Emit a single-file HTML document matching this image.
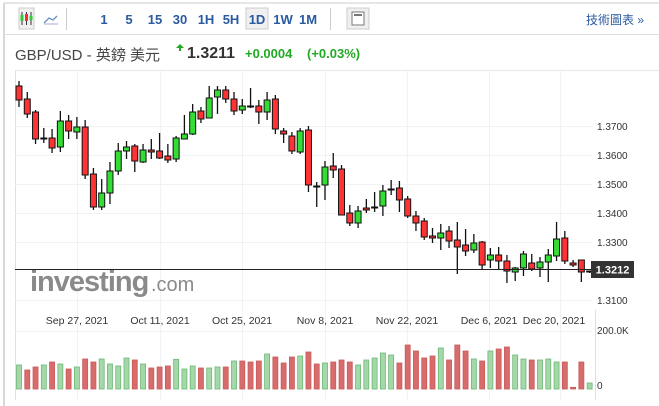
<!DOCTYPE html>
<html><head><meta charset="utf-8">
<style>
body{margin:0;background:#fff;width:659px;height:406px;overflow:hidden;font-family:"Liberation Sans","Noto Sans CJK TC",sans-serif;}
</style></head><body>
<svg id="s" width="659" height="406" xmlns="http://www.w3.org/2000/svg" style="position:absolute;left:0;top:0">
<rect x="0" y="0" width="659" height="406" fill="#fff"/>
<line x1="4" y1="3" x2="4" y2="406" stroke="#ccc" stroke-width="1.5"/>
<line x1="4" y1="3" x2="659" y2="3" stroke="#ccc"/>
<line x1="4" y1="34.5" x2="659" y2="34.5" stroke="#ddd"/>
<rect x="19" y="8" width="15" height="21" fill="#f0f0f0" stroke="#ccc"/>
<g stroke="#333" stroke-width="1"><line x1="22" y1="12" x2="22" y2="25"/><line x1="26.5" y1="12" x2="26.5" y2="25"/><line x1="31" y1="12" x2="31" y2="25"/></g>
<rect x="20.5" y="15" width="3" height="6" fill="#3c3"/><rect x="25" y="14" width="3" height="7" fill="#e33"/><rect x="29.5" y="16" width="3" height="4" fill="#3c3"/>
<polyline points="44,23 49,18 53,20 57,16" fill="none" stroke="#6a8fc0" stroke-width="1.3"/>
<line x1="44" y1="24" x2="58" y2="24" stroke="#aac"/>
<line x1="66.5" y1="8" x2="66.5" y2="30" stroke="#ccc"/>
<g font-size="13" font-weight="bold" fill="#2a5aa0" text-anchor="middle">
<text x="104" y="24">1</text><text x="129" y="24">5</text><text x="155" y="24">15</text><text x="180" y="24">30</text><text x="206" y="24">1H</text><text x="231" y="24">5H</text>
<rect x="246" y="8" width="22" height="21" fill="#f0f0f0" stroke="#ccc"/>
<text x="257" y="24">1D</text><text x="283" y="24">1W</text><text x="308" y="24">1M</text></g>
<line x1="330.5" y1="8" x2="330.5" y2="30" stroke="#ccc"/>
<rect x="347" y="8" width="22" height="21" fill="#f0f0f0" stroke="#ccc"/>
<rect x="352" y="12" width="12" height="13" fill="#fff" stroke="#777"/>
<line x1="354" y1="15" x2="362" y2="15" stroke="#777" stroke-width="2"/>
<text x="644" y="24" font-size="12" fill="#2a5aa0" text-anchor="end">技術圖表 »</text>
<text x="15" y="60" font-size="15" fill="#444">GBP/USD - 英鎊 美元</text>
<polygon points="176,48 180,44 184,48 181,48 181,51 179,51 179,48" fill="#2a2"/>
<text x="187" y="58" font-size="16" font-weight="bold" fill="#333">1.3211</text>
<text x="245" y="58" font-size="13" font-weight="bold" fill="#2a2">+0.0004</text>
<text x="307" y="58" font-size="13" font-weight="bold" fill="#2a2">(+0.03%)</text>
<line x1="15.5" y1="70" x2="15.5" y2="400" stroke="#dde"/>
<line x1="15" y1="70.5" x2="659" y2="70.5" stroke="#e6e8ee"/>
<g id="grid" stroke="#f1f2f4"></g>
<g font-size="10" fill="#333">
<text x="597" y="130">1.3700</text><text x="597" y="159">1.3600</text><text x="597" y="188">1.3500</text><text x="597" y="217">1.3400</text><text x="597" y="246">1.3300</text><text x="597" y="304">1.3100</text>
<text x="597" y="334">200.0K</text><text x="597" y="389">0</text></g>
<g font-size="10.5" fill="#333" text-anchor="middle">
<text x="77" y="324">Sep 27, 2021</text><text x="160" y="324">Oct 11, 2021</text><text x="242" y="324">Oct 25, 2021</text><text x="325" y="324">Nov 8, 2021</text><text x="407" y="324">Nov 22, 2021</text><text x="489" y="324">Dec 6, 2021</text><text x="554" y="324">Dec 20, 2021</text></g>
<line x1="595.5" y1="310" x2="595.5" y2="400" stroke="#dde"/>
<text x="30" y="291" font-size="29" font-weight="bold" fill="#8a8a8a" letter-spacing="-1">investing</text>
<text x="151" y="291" font-size="20" fill="#8a8a8a">.com</text>
<g id="c"></g>
<line x1="15" y1="269.5" x2="592" y2="269.5" stroke="#222"/>
<rect x="591" y="261" width="43" height="17" fill="#333"/>
<text x="612.5" y="273.5" font-size="11" fill="#fff" text-anchor="middle" font-weight="bold">1.3212</text>
</svg>
<script>
(function(){
var S="http://www.w3.org/2000/svg";
function el(p,t,a){var e=document.createElementNS(S,t);for(var k in a)e.setAttribute(k,a[k]);p.appendChild(e);return e;}
var g=document.getElementById('grid');
[126,155,184,213,242,300,331].forEach(function(y){el(g,'line',{x1:15,x2:592,y1:y+.5,y2:y+.5});});
[77,160,242,325,407,489,560].forEach(function(x){el(g,'line',{x1:x+.5,x2:x+.5,y1:71,y2:400});});
var C=[
['r',86,100,81,107],['r',99,114,92,118],['r',112,139,110,144],['r',138,139,128,143],['r',138,148,129,153],['g',121,147,111,152],['r',121,131,115,139],['g',127,132,117,139],['r',127,175,120,179],['r',174,207,168,210],
['g',193,207,179,210],['g',171,193,162,204],['g',151,171,143,175],['g',147,151,141,159],['r',146,161,144,172],['g',150,162,144,163],['r',150,152,139,159],['r',151,158,133,159],['r',156,160,144,163],['g',138,159,136,162],
['g',134,139,115,139],['g',112,134,104,135],['r',111,119,107,123],['g',98,118,86,118],['g',90,97,86,114],['r',90,99,86,103],['r',99,111,92,115],['g',106,110,99,114],['r',106,107,88,108],['r',106,112,100,124],
['g',100,112,92,120],['r',99,129,95,134],['r',131,134,128,143],['r',136,151,132,154],['g',131,152,128,154],['r',130,185,126,192],['r',186,187,182,207],['g',167,185,161,200],['r',166,170,153,178],['r',169,215,165,215],
['r',213,223,205,226],['g',211,223,206,228],['r',208,210,199,213],['r',207,208,192,212],['g',191,206,185,216],['r',189,190,180,195],['r',188,200,181,212],['r',199,216,196,218],['r',216,223,211,231],['r',221,237,218,240],
['r',236,238,228,243],['g',233,238,224,250],['r',231,241,226,248],['r',240,247,222,274],['r',245,251,229,256],['g',243,250,234,253],['r',242,265,241,270],['g',255,260,248,268],['r',255,261,247,270],['r',261,271,255,283],
['g',268,272,267,281],['g',254,268,251,276],['r',263,269,254,271],['g',262,268,257,277],['g',255,262,249,282],['g',239,256,222,261],['r',238,261,231,264],['r',263,265,260,267],['r',260,272,260,282],['r',271,272,271,273]];
var V=['g195','r210','r201','g195','r186','g192','r207','g201','r177','r186','g177','g192','g198','g174','r180','g192','r204','r201','r198','g178','g207','g198','r204','g204','g201','r201','g183','r183','r186','r183','g162','r171','r189','r171','g168','r156','r192','g189','r186','r180','r186','g195','g180','g174','g159','g165','r189','r135','r153','r174','r168','g144','r180','r135','r153','g177','r183','g153','r147','r141','g165','g177','r180','g180','g177','g186','r186','r262','r186','g249'];
var c=document.getElementById('c');
for(var i=0;i<70;i++){var x=19+i*8.27;
 var v=V[i],col=v[0],vt=300+(+v.slice(1))/3;
 el(c,'rect',{x:x-2.5,y:vt,width:5,height:389-vt,fill:col=='r'?'#d86b6b':'#a5d8a9',stroke:col=='r'?'#c85a5a':'#6cb676','stroke-width':0.8});
 var d=C[i];
 el(c,'line',{x1:x,x2:x,y1:d[3],y2:d[4],stroke:'#111','stroke-width':1.3});
 var h=Math.max(d[2]-d[1],1);
 el(c,'rect',{x:x-3,y:d[1],width:6,height:h,fill:d[0]=='r'?'#f33':'#3d3',stroke:'#111','stroke-width':1});
}
})();
</script>
</body></html>
